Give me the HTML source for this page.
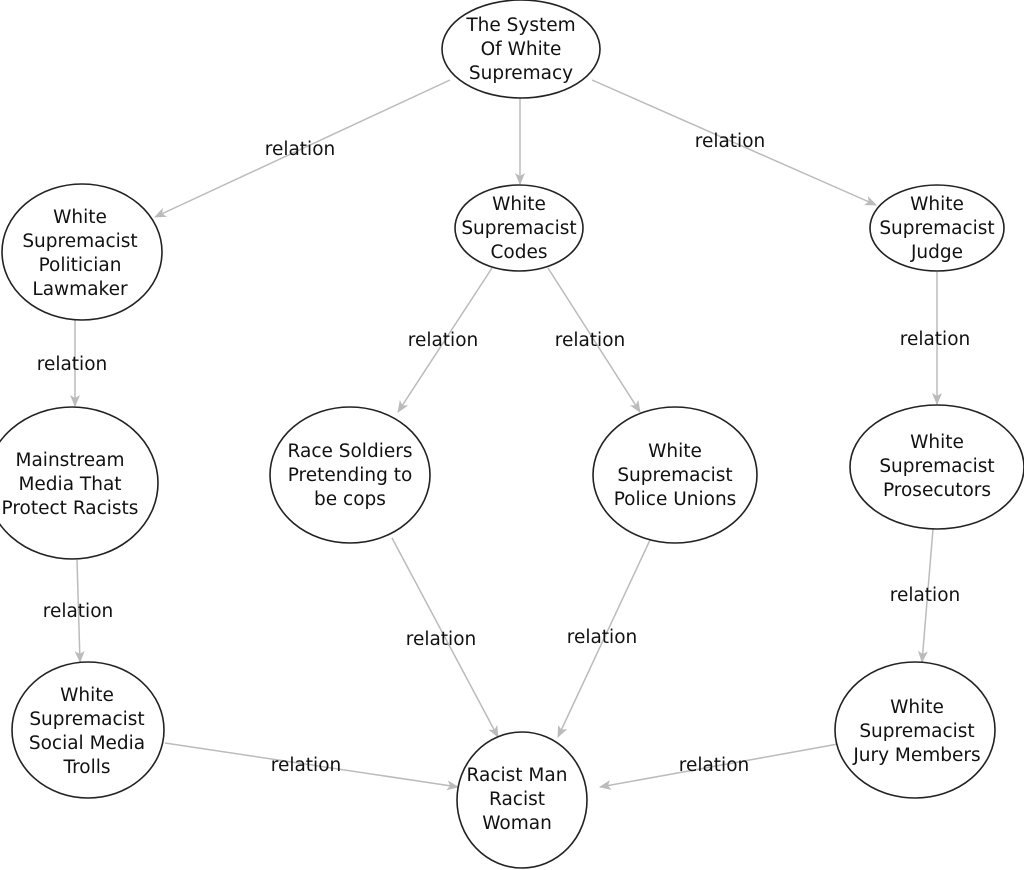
<!DOCTYPE html>
<html><head><meta charset="utf-8"><style>
html,body{margin:0;padding:0;background:#fff;}
svg{display:block;}
text{font-family:"DejaVu Sans","Liberation Sans",sans-serif;font-size:18.5px;fill:#111;text-anchor:middle;}
.e{fill:#fff;stroke:#222;stroke-width:1.6;}
.l{stroke:#bbb;stroke-width:1.5;fill:none;marker-end:url(#a);}
</style></head><body>
<svg width="1024" height="870" viewBox="0 0 1024 870">
<defs><marker id="a" markerWidth="12" markerHeight="10" refX="11" refY="5" orient="auto" markerUnits="userSpaceOnUse"><path d="M0,0 L12,5 L0,10 L3,5 Z" fill="#bbb"/></marker></defs>
<line class="l" x1="450" y1="80" x2="155" y2="217"/>
<line class="l" x1="520" y1="98" x2="520" y2="184"/>
<line class="l" x1="592" y1="80" x2="876" y2="205"/>
<line class="l" x1="75" y1="320" x2="75" y2="406"/>
<line class="l" x1="77" y1="560" x2="80" y2="662"/>
<line class="l" x1="492" y1="268" x2="398" y2="412"/>
<line class="l" x1="548" y1="268" x2="640" y2="412"/>
<line class="l" x1="937" y1="272" x2="937" y2="404"/>
<line class="l" x1="933" y1="529" x2="922" y2="662"/>
<line class="l" x1="392" y1="538" x2="498" y2="737"/>
<line class="l" x1="650" y1="540" x2="558" y2="737"/>
<line class="l" x1="165" y1="743" x2="458" y2="787"/>
<line class="l" x1="838" y1="744" x2="600" y2="787"/>
<ellipse class="e" cx="521" cy="49" rx="79" ry="49"/>
<ellipse class="e" cx="82" cy="252" rx="80" ry="68"/>
<ellipse class="e" cx="519" cy="228" rx="64" ry="43"/>
<ellipse class="e" cx="937" cy="228" rx="67" ry="43"/>
<ellipse class="e" cx="72" cy="483" rx="86" ry="76"/>
<ellipse class="e" cx="350" cy="475" rx="80" ry="68"/>
<ellipse class="e" cx="675" cy="475" rx="82" ry="68"/>
<ellipse class="e" cx="937" cy="467" rx="87" ry="62"/>
<ellipse class="e" cx="88" cy="730" rx="76" ry="68"/>
<ellipse class="e" cx="522" cy="800" rx="65" ry="68"/>
<ellipse class="e" cx="915" cy="730" rx="80" ry="68"/>
<text x="521" y="31">The System</text><text x="521" y="55">Of White</text><text x="521" y="79">Supremacy</text>
<text x="80" y="223">White</text><text x="80" y="247">Supremacist</text><text x="80" y="271">Politician</text><text x="80" y="295">Lawmaker</text>
<text x="519" y="210">White</text><text x="519" y="234">Supremacist</text><text x="519" y="258">Codes</text>
<text x="937" y="210">White</text><text x="937" y="234">Supremacist</text><text x="937" y="258">Judge</text>
<text x="70" y="466">Mainstream</text><text x="70" y="490">Media That</text><text x="70" y="514">Protect Racists</text>
<text x="350" y="457">Race Soldiers</text><text x="350" y="481">Pretending to</text><text x="350" y="505">be cops</text>
<text x="675" y="457">White</text><text x="675" y="481">Supremacist</text><text x="675" y="505">Police Unions</text>
<text x="937" y="448">White</text><text x="937" y="472">Supremacist</text><text x="937" y="496">Prosecutors</text>
<text x="87" y="701">White</text><text x="87" y="725">Supremacist</text><text x="87" y="749">Social Media</text><text x="87" y="773">Trolls</text>
<text x="517" y="781">Racist Man</text><text x="517" y="805">Racist</text><text x="517" y="829">Woman</text>
<text x="917" y="713">White</text><text x="917" y="737">Supremacist</text><text x="917" y="761">Jury Members</text>
<text x="300" y="155">relation</text>
<text x="730" y="147">relation</text>
<text x="72" y="370">relation</text>
<text x="443" y="346">relation</text>
<text x="590" y="346">relation</text>
<text x="935" y="345">relation</text>
<text x="78" y="617">relation</text>
<text x="441" y="645">relation</text>
<text x="602" y="643">relation</text>
<text x="925" y="601">relation</text>
<text x="306" y="771">relation</text>
<text x="714" y="771">relation</text>
</svg>
</body></html>
